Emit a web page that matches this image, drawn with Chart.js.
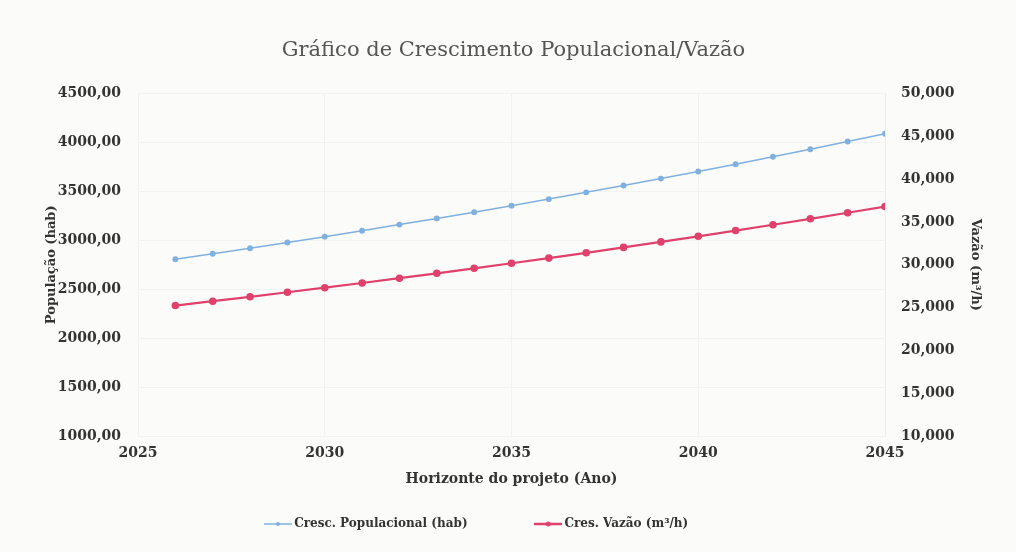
<!DOCTYPE html>
<html>
<head>
<meta charset="utf-8">
<script src="https://cdn.jsdelivr.net/npm/chart.js@4"></script>
<style>
  html, body { margin: 0; padding: 0; background: #fbfbfa; }
  #wrap { width: 1016px; height: 552px; }
</style>
</head>
<body>
<div id="wrap"><canvas id="grafico" width="1016" height="552"></canvas></div>
<script>
// dados
const anos = [2026, 2027, 2028, 2029, 2030, 2031, 2032, 2033, 2034, 2035,
              2036, 2037, 2038, 2039, 2040, 2041, 2042, 2043, 2044, 2045];
const populacao = [2806, 2862, 2919, 2977, 3037, 3098, 3160, 3223, 3287, 3353,
                   3420, 3489, 3558, 3629, 3702, 3776, 3852, 3929, 4007, 4087];
const vazao = [25.25, 25.76, 26.27, 26.80, 27.33, 27.88, 28.44, 29.01, 29.59, 30.18,
               30.78, 31.40, 32.03, 32.67, 33.32, 33.99, 34.67, 35.36, 36.07, 36.79];

const fonte = "'DejaVu Serif', 'Liberation Serif', serif";

function iconeLegenda(cor, raio, espessura) {
  const c = document.createElement("canvas");
  c.width = 28; c.height = 10;
  const g = c.getContext("2d");
  g.strokeStyle = cor; g.lineWidth = espessura;
  g.beginPath(); g.moveTo(0, 5); g.lineTo(28, 5); g.stroke();
  g.fillStyle = cor;
  g.beginPath(); g.arc(14, 5, raio, 0, Math.PI * 2); g.fill();
  return c;
}

const azul = "#7fb0e0";
const vermelho = "#e0416c";

const ctx = document.getElementById("grafico").getContext("2d");
new Chart(ctx, {
  type: "line",
  data: {
    datasets: [
      {
        label: "Cresc. Populacional (hab)",
        data: anos.map((a, i) => ({ x: a, y: populacao[i] })),
        borderColor: azul,
        backgroundColor: azul,
        borderWidth: 1.5,
        pointRadius: 2.2,
        pointStyle: "circle",
        yAxisID: "y",
      },
      {
        label: "Cres. Vazão (m³/h)",
        data: anos.map((a, i) => ({ x: a, y: vazao[i] })),
        borderColor: vermelho,
        backgroundColor: vermelho,
        borderWidth: 2.2,
        pointRadius: 2.7,
        pointStyle: "circle",
        yAxisID: "y2",
      },
    ],
  },
  options: {
    responsive: false,
    animation: false,
    layout: { padding: { top: 38, bottom: 12, left: 44, right: 33 } },
    plugins: {
      title: {
        display: true,
        text: "Gráfico de Crescimento Populacional/Vazão",
        color: "#555",
        font: { family: fonte, size: 21, weight: "normal" },
        padding: { top: 0, bottom: 30 },
      },
      legend: {
        position: "bottom",
        labels: {
          color: "#333",
          font: { family: fonte, size: 12, weight: "bold" },
          usePointStyle: true,
          padding: 12,
          generateLabels: (chart) => {
            const itens = Chart.defaults.plugins.legend.labels.generateLabels(chart);
            itens[0].pointStyle = iconeLegenda(azul, 2, 1.5);
            itens[1].pointStyle = iconeLegenda(vermelho, 2.5, 2.5);
            // espaços só para afastar os itens como no original
            itens[0].text = " " + itens[0].text + "               ";
            itens[1].text = " " + itens[1].text + "                ";
            return itens;
          },
        },
      },
      tooltip: { enabled: false },
    },
    scales: {
      x: {
        type: "linear",
        min: 2025,
        max: 2045,
        ticks: {
          stepSize: 5,
          padding: 9,
          color: "#333",
          font: { family: fonte, size: 14, weight: "bold" },
          callback: (v) => String(v),
        },
        grid: { color: "#f2f2f2", drawTicks: false },
        border: { display: false },
        title: {
          display: true,
          text: "Horizonte do projeto (Ano)",
          color: "#333",
          font: { family: fonte, size: 14, weight: "bold" },
          padding: { top: 0, bottom: 18 },
        },
      },
      y: {
        position: "left",
        min: 1000,
        max: 4500,
        ticks: {
          stepSize: 500,
          padding: 17,
          color: "#333",
          font: { family: fonte, size: 14, weight: "bold" },
          callback: (v) => v.toFixed(2).replace(".", ","),
        },
        grid: { color: "#f2f2f2", drawTicks: false },
        border: { display: false },
        title: {
          display: true,
          text: "População (hab)",
          color: "#333",
          font: { family: fonte, size: 13, weight: "bold" },
          padding: 0,
        },
        afterFit: (s) => { s.width = 94; },
      },
      y2: {
        position: "right",
        min: 10,
        max: 50,
        ticks: {
          stepSize: 5,
          padding: 8,
          color: "#333",
          font: { family: fonte, size: 14, weight: "bold" },
          callback: (v) => v.toFixed(3).replace(".", ","),
        },
        grid: { display: false },
        border: { display: true, color: "#ececec" },
        title: {
          display: true,
          text: "Vazão (m³/h)",
          color: "#333",
          font: { family: fonte, size: 13, weight: "bold" },
          padding: 0,
        },
        afterFit: (s) => { s.width = 98; },
      },
    },
  },
});
</script>
</body>
</html>
